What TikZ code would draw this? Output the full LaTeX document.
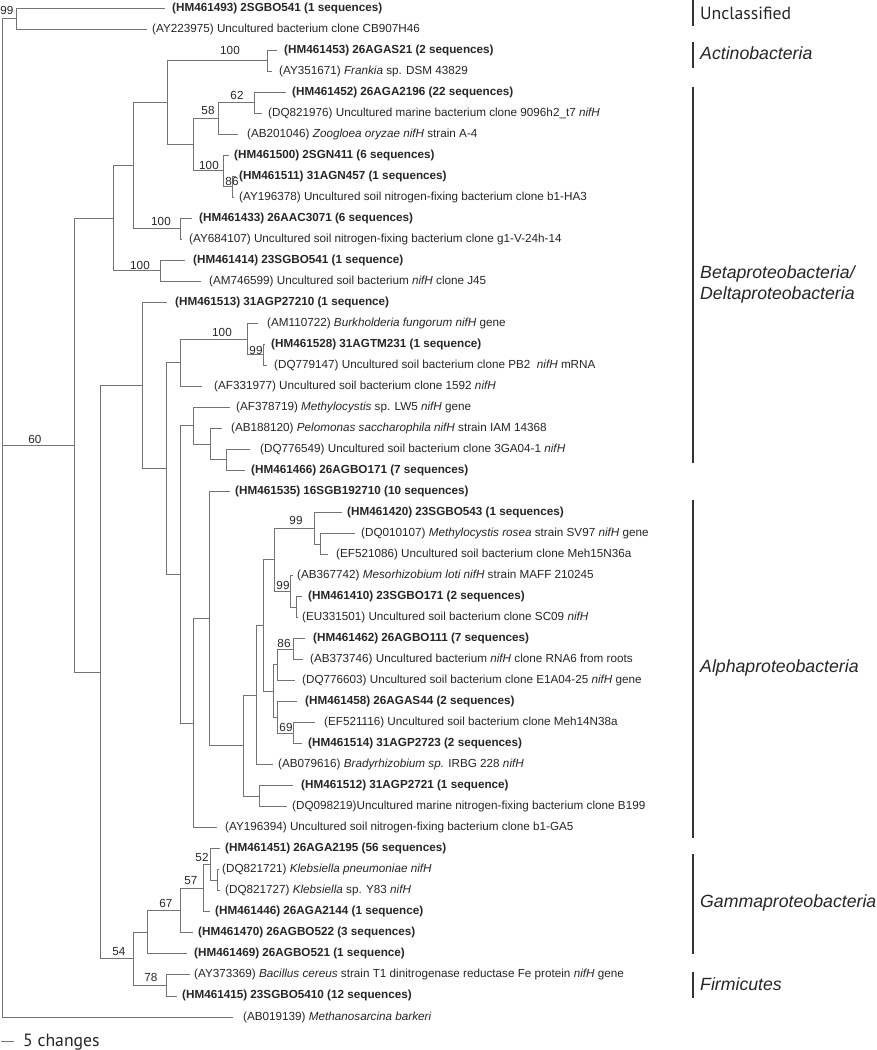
\documentclass[tikz,border=0pt]{standalone}
\usepackage{fontspec}
\setmainfont{Liberation Sans}
\newfontfamily\myriadlike{PT Sans}
\begin{document}
\begin{tikzpicture}[x=1pt,y=-1pt,
  br/.style={draw=black!55, line width=0.9pt},
  leaf/.style={anchor=west, inner ysep=0pt, font=\fontsize{11.7}{13}\selectfont, text=black!85},
  bs/.style={font=\fontsize{11.7}{13}\selectfont, text=black!85, inner sep=0pt},
  cladebar/.style={draw=black!80, line width=1.4pt},
  cladelbl/.style={anchor=west, inner sep=0pt, align=left, font=\fontsize{17.7}{21}\selectfont\itshape, text=black!85}]
\useasboundingbox (0,0) rectangle (876,1050);

% ---------- internal nodes ----------
\coordinate (root) at (2,445.17);
\coordinate (nA) at (16,18.51);
\coordinate (n60) at (74,445.17);
\coordinate (nC4) at (113,218.20);
\coordinate (nC3) at (133,165.65);
\coordinate (nC2) at (167,102.59);
\coordinate (nAct) at (267,60.55);
\coordinate (nC1) at (193,144.63);
\coordinate (n58) at (218,118.36);
\coordinate (n62) at (254,102.59);
\coordinate (n100a) at (223,170.91);
\coordinate (n86a) at (232,186.67);
\coordinate (n100b) at (180,228.71);
\coordinate (n100c) at (160,270.75);
\coordinate (nT) at (100,672.14);
\coordinate (nR) at (142,385.44);
\coordinate (nQ) at (166,468.60);
\coordinate (nD1) at (180,362.71);
\coordinate (n100d) at (247,339.07);
\coordinate (n99a) at (263,354.83);
\coordinate (nP) at (180,574.48);
\coordinate (nE1) at (193,425.78);
\coordinate (nE2) at (210,444.17);
\coordinate (nE3) at (226,459.93);
\coordinate (nN) at (193,723.18);
\coordinate (nM) at (209,618.57);
\coordinate (nL) at (243,745.68);
\coordinate (nJ) at (256,695.10);
\coordinate (nI) at (263,625.47);
\coordinate (nF) at (274,559.78);
\coordinate (n99b) at (314,528.25);
\coordinate (nF1b) at (320,544.01);
\coordinate (n99c) at (290,591.31);
\coordinate (nG2) at (296,607.07);
\coordinate (nH) at (273,691.16);
\coordinate (nH1) at (277,664.88);
\coordinate (n86b) at (293,649.11);
\coordinate (nH2) at (277,717.43);
\coordinate (n69) at (293,733.19);
\coordinate (nK) at (259,796.25);
\coordinate (n54) at (133,958.83);
\coordinate (n67) at (147,932.23);
\coordinate (nS1) at (180,910.55);
\coordinate (n57) at (203,888.22);
\coordinate (n52) at (210,864.57);
\coordinate (nS3) at (217,880.33);
\coordinate (n78) at (166,985.43);

% ---------- leaves ----------
\node[leaf, inner xsep=7pt] (l1) at (165,8.00) {\textbf{(HM461493) 2SGBO541 (1 sequences)}};
\node[leaf, inner xsep=5pt] (l2) at (147,29.02) {(AY223975) Uncultured bacterium clone CB907H46};
\node[leaf, inner xsep=7pt] (l3) at (277,50.04) {\textbf{(HM461453) 26AGAS21 (2 sequences)}};
\node[leaf, inner xsep=7pt] (l4) at (272,71.06) {(AY351671) \textit{Frankia} sp. DSM 43829};
\node[leaf, inner xsep=6pt] (l5) at (286,92.08) {\textbf{(HM461452) 26AGA2196 (22 sequences)}};
\node[leaf, inner xsep=6pt] (l6) at (262,113.10) {(DQ821976) Uncultured marine bacterium clone 9096h2\_t7 \textit{nifH}};
\node[leaf, inner xsep=9pt] (l7) at (238,134.12) {(AB201046) \textit{Zoogloea oryzae nifH} strain A-4};
\node[leaf, inner xsep=5pt] (l8) at (229,155.14) {\textbf{(HM461500) 2SGN411 (6 sequences)}};
\node[leaf, inner xsep=3pt] (l9) at (236,176.16) {\textbf{(HM461511) 31AGN457 (1 sequences)}};
\node[leaf, inner xsep=5pt] (l10) at (234,197.18) {(AY196378) Uncultured soil nitrogen-fixing bacterium clone b1-HA3};
\node[leaf, inner xsep=7pt] (l11) at (192,218.20) {\textbf{(HM461433) 26AAC3071 (6 sequences)}};
\node[leaf, inner xsep=7pt] (l12) at (182,239.22) {(AY684107) Uncultured soil nitrogen-fixing bacterium clone g1-V-24h-14};
\node[leaf, inner xsep=8pt] (l13) at (185,260.24) {\textbf{(HM461414) 23SGBO541 (1 sequence)}};
\node[leaf, inner xsep=8pt] (l14) at (201,281.26) {(AM746599) Uncultured soil bacterium \textit{nifH} clone J45};
\node[leaf, inner xsep=8pt] (l15) at (167,302.28) {\textbf{(HM461513) 31AGP27210 (1 sequence)}};
\node[leaf, inner xsep=9pt] (l16) at (258,323.30) {(AM110722) \textit{Burkholderia fungorum nifH} gene};
\node[leaf, inner xsep=6pt] (l17) at (265,344.32) {\textbf{(HM461528) 31AGTM231 (1 sequence)}};
\node[leaf, inner xsep=7pt] (l18) at (267,365.34) {(DQ779147) Uncultured soil bacterium clone PB2\ \ \textit{nifH} mRNA};
\node[leaf, inner xsep=12pt] (l19) at (202,386.36) {(AF331977) Uncultured soil bacterium clone 1592 \textit{nifH}};
\node[leaf, inner xsep=6pt] (l20) at (230,407.38) {(AF378719) \textit{Methylocystis} sp. LW5 \textit{nifH} gene};
\node[leaf, inner xsep=9pt] (l21) at (222,428.40) {(AB188120) \textit{Pelomonas saccharophila nifH} strain IAM 14368};
\node[leaf, inner xsep=10pt] (l22) at (250,449.42) {(DQ776549) Uncultured soil bacterium clone 3GA04-1 \textit{nifH}};
\node[leaf, inner xsep=6pt] (l23) at (245,470.44) {\textbf{(HM461466) 26AGBO171 (7 sequences)}};
\node[leaf, inner xsep=5pt] (l24) at (230,491.46) {\textbf{(HM461535) 16SGB192710 (10 sequences)}};
\node[leaf, inner xsep=5pt] (l25) at (342,512.48) {\textbf{(HM461420) 23SGBO543 (1 sequences)}};
\node[leaf, inner xsep=6pt] (l26) at (355,533.50) {(DQ010107) \textit{Methylocystis rosea} strain SV97 \textit{nifH} gene};
\node[leaf, inner xsep=8pt] (l27) at (328,554.52) {(EF521086) Uncultured soil bacterium clone Meh15N36a};
\node[leaf, inner xsep=4pt] (l28) at (293,575.54) {(AB367742) \textit{Mesorhizobium loti nifH} strain MAFF 210245};
\node[leaf, inner xsep=6pt] (l29) at (302,596.56) {\textbf{(HM461410) 23SGBO171 (2 sequences)}};
\node[leaf, inner xsep=4pt] (l30) at (298,617.58) {(EU331501) Uncultured soil bacterium clone SC09 \textit{nifH}};
\node[leaf, inner xsep=8pt] (l31) at (305,638.60) {\textbf{(HM461462) 26AGBO111 (7 sequences)}};
\node[leaf, inner xsep=7pt] (l32) at (303,659.62) {(AB373746) Uncultured bacterium \textit{nifH} clone RNA6 from roots};
\node[leaf, inner xsep=7pt] (l33) at (295,680.64) {(DQ776603) Uncultured soil bacterium clone E1A04-25 \textit{nifH} gene};
\node[leaf, inner xsep=8pt] (l34) at (297,701.66) {\textbf{(HM461458) 26AGAS44 (2 sequences)}};
\node[leaf, inner xsep=9pt] (l35) at (315,722.68) {(EF521116) Uncultured soil bacterium clone Meh14N38a};
\node[leaf, inner xsep=6pt] (l36) at (302,743.70) {\textbf{(HM461514) 31AGP2723 (2 sequences)}};
\node[leaf, inner xsep=5pt] (l37) at (273,764.72) {(AB079616) \textit{Bradyrhizobium sp.} IRBG 228 \textit{nifH}};
\node[leaf, inner xsep=8pt] (l38) at (293,785.74) {\textbf{(HM461512) 31AGP2721 (1 sequence)}};
\node[leaf, inner xsep=5pt] (l39) at (287,806.76) {(DQ098219)Uncultured marine nitrogen-fixing bacterium clone B199};
\node[leaf, inner xsep=8pt] (l40) at (217,827.78) {(AY196394) Uncultured soil nitrogen-fixing bacterium clone b1-GA5};
\node[leaf, inner xsep=5pt] (l41) at (220,848.80) {\textbf{(HM461451) 26AGA2195 (56 sequences)}};
\node[leaf, inner xsep=3pt] (l42) at (219,869.82) {(DQ821721) \textit{Klebsiella pneumoniae nifH}};
\node[leaf, inner xsep=5pt] (l43) at (220,890.84) {(DQ821727) \textit{Klebsiella} sp. Y83 \textit{nifH}};
\node[leaf, inner xsep=5pt] (l44) at (210,911.86) {\textbf{(HM461446) 26AGA2144 (1 sequence)}};
\node[leaf, inner xsep=5pt] (l45) at (193,932.88) {\textbf{(HM461470) 26AGBO522 (3 sequences)}};
\node[leaf, inner xsep=7pt] (l46) at (187,953.90) {\textbf{(HM461469) 26AGBO521 (1 sequence)}};
\node[leaf, inner xsep=4pt] (l47) at (190,974.92) {(AY373369) \textit{Bacillus cereus} strain T1 dinitrogenase reductase Fe protein \textit{nifH} gene};
\node[leaf, inner xsep=5pt] (l48) at (177,995.94) {\textbf{(HM461415) 23SGBO5410 (12 sequences)}};
\node[leaf, inner xsep=10pt] (l49) at (233,1016.96) {(AB019139) \textit{Methanosarcina barkeri}};

% ---------- branches ----------
\foreach \p/\c in {root/nA, root/n60, root/l49.west, nA/l1.west, nA/l2.west,
  n60/nC4, n60/nT, nC4/nC3, nC4/n100c, nC3/nC2, nC3/n100b, nC2/nAct, nC2/nC1,
  nAct/l3.west, nAct/l4.west, nC1/n58, nC1/n100a, n58/n62, n58/l7.west,
  n62/l5.west, n62/l6.west, n100a/l8.west, n100a/n86a, n86a/l9.west, n86a/l10.west,
  n100b/l11.west, n100b/l12.west, n100c/l13.west, n100c/l14.west,
  nT/nR, nT/n54, nR/l15.west, nR/nQ, nQ/nD1, nQ/nP, nD1/n100d, nD1/l19.west,
  n100d/l16.west, n100d/n99a, n99a/l17.west, n99a/l18.west,
  nP/nE1, nP/nN, nE1/l20.west, nE1/nE2, nE2/l21.west, nE2/nE3, nE3/l22.west, nE3/l23.west,
  nN/nM, nN/l40.west, nM/l24.west, nM/nL, nL/nJ, nL/nK, nJ/nI, nJ/l37.west,
  nI/nF, nI/nH, nF/n99b, nF/n99c, n99b/l25.west, n99b/nF1b, nF1b/l26.west, nF1b/l27.west,
  n99c/l28.west, n99c/nG2, nG2/l29.west, nG2/l30.west,
  nH/nH1, nH/nH2, nH1/n86b, nH1/l33.west, n86b/l31.west, n86b/l32.west,
  nH2/l34.west, nH2/n69, n69/l35.west, n69/l36.west, nK/l38.west, nK/l39.west,
  n54/n67, n54/n78, n67/nS1, n67/l46.west, nS1/n57, nS1/l45.west,
  n57/n52, n57/l44.west, n52/l41.west, n52/nS3, nS3/l42.west, nS3/l43.west,
  n78/l47.west, n78/l48.west}
  \draw[br] (\p) |- (\c);

% ---------- bootstrap values ----------
\node[bs] (b1) at (7,10) {99};
\node[bs] (b2) at (230,50) {100};
\node[bs] (b3) at (237,95) {62};
\node[bs] (b4) at (208,110) {58};
\node[bs] (b5) at (209,165) {100};
\node[bs] (b6) at (232,181) {86};
\node[bs] (b7) at (161,221) {100};
\node[bs] (b8) at (140,265) {100};
\node[bs] (b9) at (222,332) {100};
\node[bs] (b10) at (256,350) {99};
\node[bs] (b11) at (35,439) {60};
\node[bs] (b12) at (296,520) {99};
\node[bs] (b13) at (283,585) {99};
\node[bs] (b14) at (284,643) {86};
\node[bs] (b15) at (286,727) {69};
\node[bs] (b16) at (202,857) {52};
\node[bs] (b17) at (191,881) {57};
\node[bs] (b18) at (166,903) {67};
\node[bs] (b19) at (119,952) {54};
\node[bs] (b20) at (151,977) {78};

% ---------- clade bars and labels ----------
\draw[cladebar] (693,0) -- (693,26);
\node[cladelbl, font=\fontsize{17.7}{21}\selectfont\myriadlike] (cu) at (700,13) {Unclassified};
\draw[cladebar] (693,42) -- (693,68);
\node[cladelbl] (ca) at (700,53) {Actinobacteria};
\draw[cladebar] (693,87) -- (693,463);
\node[cladelbl] (cb) at (700,284.5) {Betaproteobacteria/\\Deltaproteobacteria};
\draw[cladebar] (693,500) -- (693,838);
\node[cladelbl] (cal) at (700,668) {Alphaproteobacteria};
\draw[cladebar] (693,854) -- (693,954);
\node[cladelbl] (cg) at (700,903) {Gammaproteobacteria};
\draw[cladebar] (693,972) -- (693,998);
\node[cladelbl] (cf) at (700,984) {Firmicutes};

% ---------- scale bar ----------
\coordinate (sb1) at (1,1041);
\coordinate (sb2) at (14,1041);
\draw[br] (sb1) -- (sb2);
\node[anchor=base west, inner sep=0pt, font=\fontsize{17.7}{21}\selectfont\myriadlike, text=black!85] (sc) at (23,1046) {5 changes};
\end{tikzpicture}
\end{document}
